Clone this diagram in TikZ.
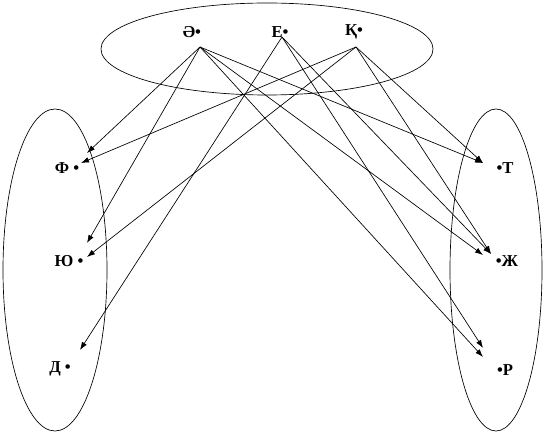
\documentclass[tikz,border=0pt]{standalone}
\usepackage{fontspec}
\setmainfont{Liberation Serif}
\usepackage{tikz}
\usetikzlibrary{arrows.meta,positioning}
\tikzset{
  letter/.style={inner sep=0pt, font=\fontsize{12.5}{14}\selectfont\bfseries},
  set/.style={draw=black, line width=0.5pt},
  map/.style={draw=black, line width=0.5pt, -{Latex[length=6pt,width=4.2pt]}}
}

\begin{document}
\begin{tikzpicture}[x=0.75pt, y=-0.75pt]
  \useasboundingbox (0,0) rectangle (545,434);
  % sets
  \draw[set] (267,49) ellipse [x radius=166, y radius=46];
  \draw[set] (55,270) ellipse [x radius=52, y radius=161];
  \draw[set] (496,270) ellipse [x radius=46, y radius=161];
  % top elements
  \node[letter] (ae) at (192,32) {Ә•};
  \node[letter] (ie) at (280,32) {Е•};
  \node[letter] (qa) at (354,32) {Қ•};
  % left elements
  \node[letter] (ef) at (67,168) {Ф •};
  \node[letter] (yu) at (69,261) {Ю •};
  \node[letter] (de) at (60,369) {Д •};
  % right elements
  \node[letter] (te) at (505,168) {•Т};
  \node[letter] (zhe) at (507,261) {•Ж};
  \node[letter] (er) at (505,370) {•Р};
  % connector ends
  \coordinate (ae-out) at (200,47);
  \coordinate (ie-out) at (282,37);
  \coordinate (qa-out) at (356,47);
  \coordinate (ef-in1) at (87,153);
  \coordinate (ef-in2) at (81,163);
  \coordinate (yu-in1) at (87,243);
  \coordinate (yu-in2) at (87,257);
  \coordinate (de-in) at (80,350);
  \coordinate (te-in) at (483,163);
  \coordinate (zhe-in1) at (483,255);
  \coordinate (zhe-in2) at (491,254);
  \coordinate (er-in1) at (483,348);
  \coordinate (er-in2) at (483,357);
  % mappings
  \foreach \a/\b in {ae-out/ef-in1, ae-out/yu-in1, ae-out/te-in, ae-out/zhe-in1,
                     ae-out/er-in2, ie-out/de-in, ie-out/zhe-in2, ie-out/er-in1,
                     qa-out/ef-in2, qa-out/yu-in2, qa-out/te-in, qa-out/zhe-in2}
    \draw[map] (\a) -- (\b);
\end{tikzpicture}
\end{document}
